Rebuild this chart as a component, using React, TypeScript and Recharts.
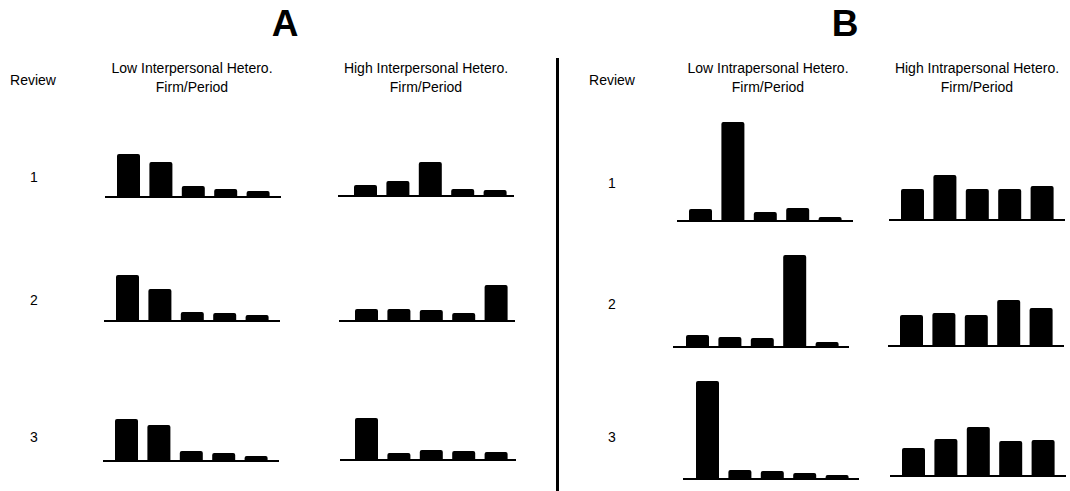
import { BarChart, Bar, XAxis, YAxis } from "recharts";

// five firm/period categories per mini chart
const periods = ["P1", "P2", "P3", "P4", "P5"];
const reviews = ["1", "2", "3"];

// bar heights (same scale in every mini chart)
const lowInterR1 = [43, 35, 11, 8, 6];
const lowInterR2 = [46, 32, 9, 8, 6];
const lowInterR3 = [42, 36, 10, 8, 5];
const highInterR1 = [11, 15, 34, 7, 6];
const highInterR2 = [12, 12, 11, 8, 36];
const highInterR3 = [42, 7, 10, 9, 8];
const lowIntraR1 = [12, 99, 9, 13, 4];
const lowIntraR2 = [12, 10, 9, 92, 5];
const lowIntraR3 = [98, 9, 8, 6, 4];
const highIntraR1 = [31, 45, 31, 31, 34];
const highIntraR2 = [31, 33, 31, 46, 38];
const highIntraR3 = [28, 37, 49, 35, 36];

const FONT = '"Liberation Sans", Arial, sans-serif';
const PLOT_H = 100;
const AXIS_W = 176;

function Mini({ values, left, base, pl = 7 }: { values: number[]; left: number; base: number; pl?: number }) {
  const data = periods.map((p, i) => ({ p, v: values[i] }));
  return (
    <div style={{ position: "absolute", left, top: base - PLOT_H }}>
      <BarChart width={AXIS_W} height={PLOT_H + 4} data={data} margin={{ top: 0, right: 0, bottom: 0, left: 0 }} barCategoryGap={0}>
        <XAxis dataKey="p" tick={false} tickLine={false} height={4} padding={{ left: pl, right: 14 - pl }}
          axisLine={{ stroke: "#000", strokeWidth: 2 }} />
        <YAxis hide domain={[0, PLOT_H]} />
        <Bar dataKey="v" fill="#000" barSize={23} radius={[2, 2, 1, 1]} isAnimationActive={false} />
      </BarChart>
    </div>
  );
}

function Txt({ x, y, children, size = 14, bold = false }: { x: number; y: number; children: React.ReactNode; size?: number; bold?: boolean }) {
  return (
    <div style={{
      position: "absolute", left: x - 150, top: y - size * 0.6, width: 300, textAlign: "center",
      fontFamily: FONT, fontSize: size, fontWeight: bold ? 700 : 400, color: "#000", lineHeight: 1.2, whiteSpace: "nowrap",
    }}>{children}</div>
  );
}

export default function App() {
  return (
    <div style={{ position: "absolute", left: 0, top: 0, width: 1070, height: 491, background: "#fff", overflow: "hidden" }}>
      <Txt x={285} y={24} size={37} bold>A</Txt>
      <Txt x={845} y={24} size={37} bold>B</Txt>

      <Txt x={33} y={80}>Review</Txt>
      <Txt x={192} y={68}>Low Interpersonal Hetero.</Txt>
      <Txt x={192} y={87}>Firm/Period</Txt>
      <Txt x={426} y={68}>High Interpersonal Hetero.</Txt>
      <Txt x={426} y={87}>Firm/Period</Txt>

      <Txt x={612} y={80}>Review</Txt>
      <Txt x={768} y={68}>Low Intrapersonal Hetero.</Txt>
      <Txt x={768} y={87}>Firm/Period</Txt>
      <Txt x={977} y={68}>High Intrapersonal Hetero.</Txt>
      <Txt x={977} y={87}>Firm/Period</Txt>

      <Txt x={34} y={177}>{reviews[0]}</Txt>
      <Txt x={34} y={300}>{reviews[1]}</Txt>
      <Txt x={34} y={437}>{reviews[2]}</Txt>
      <Txt x={612} y={183}>{reviews[0]}</Txt>
      <Txt x={612} y={304}>{reviews[1]}</Txt>
      <Txt x={612} y={437}>{reviews[2]}</Txt>

      <div style={{ position: "absolute", left: 556, top: 58, width: 3, height: 433, background: "#000" }} />

      <Mini values={lowInterR1} left={105} base={197} />
      <Mini values={lowInterR2} left={104} base={321} />
      <Mini values={lowInterR3} left={103} base={461} />
      <Mini values={highInterR1} left={338} base={196} pl={11} />
      <Mini values={highInterR2} left={339} base={321} pl={11} />
      <Mini values={highInterR3} left={340} base={460} pl={10} />
      <Mini values={lowIntraR1} left={677} base={221} />
      <Mini values={lowIntraR2} left={673} base={347} pl={8} />
      <Mini values={lowIntraR3} left={683} base={479} pl={8} />
      <Mini values={highIntraR1} left={889} base={220} />
      <Mini values={highIntraR2} left={888} base={346} />
      <Mini values={highIntraR3} left={890} base={476} />
    </div>
  );
}
